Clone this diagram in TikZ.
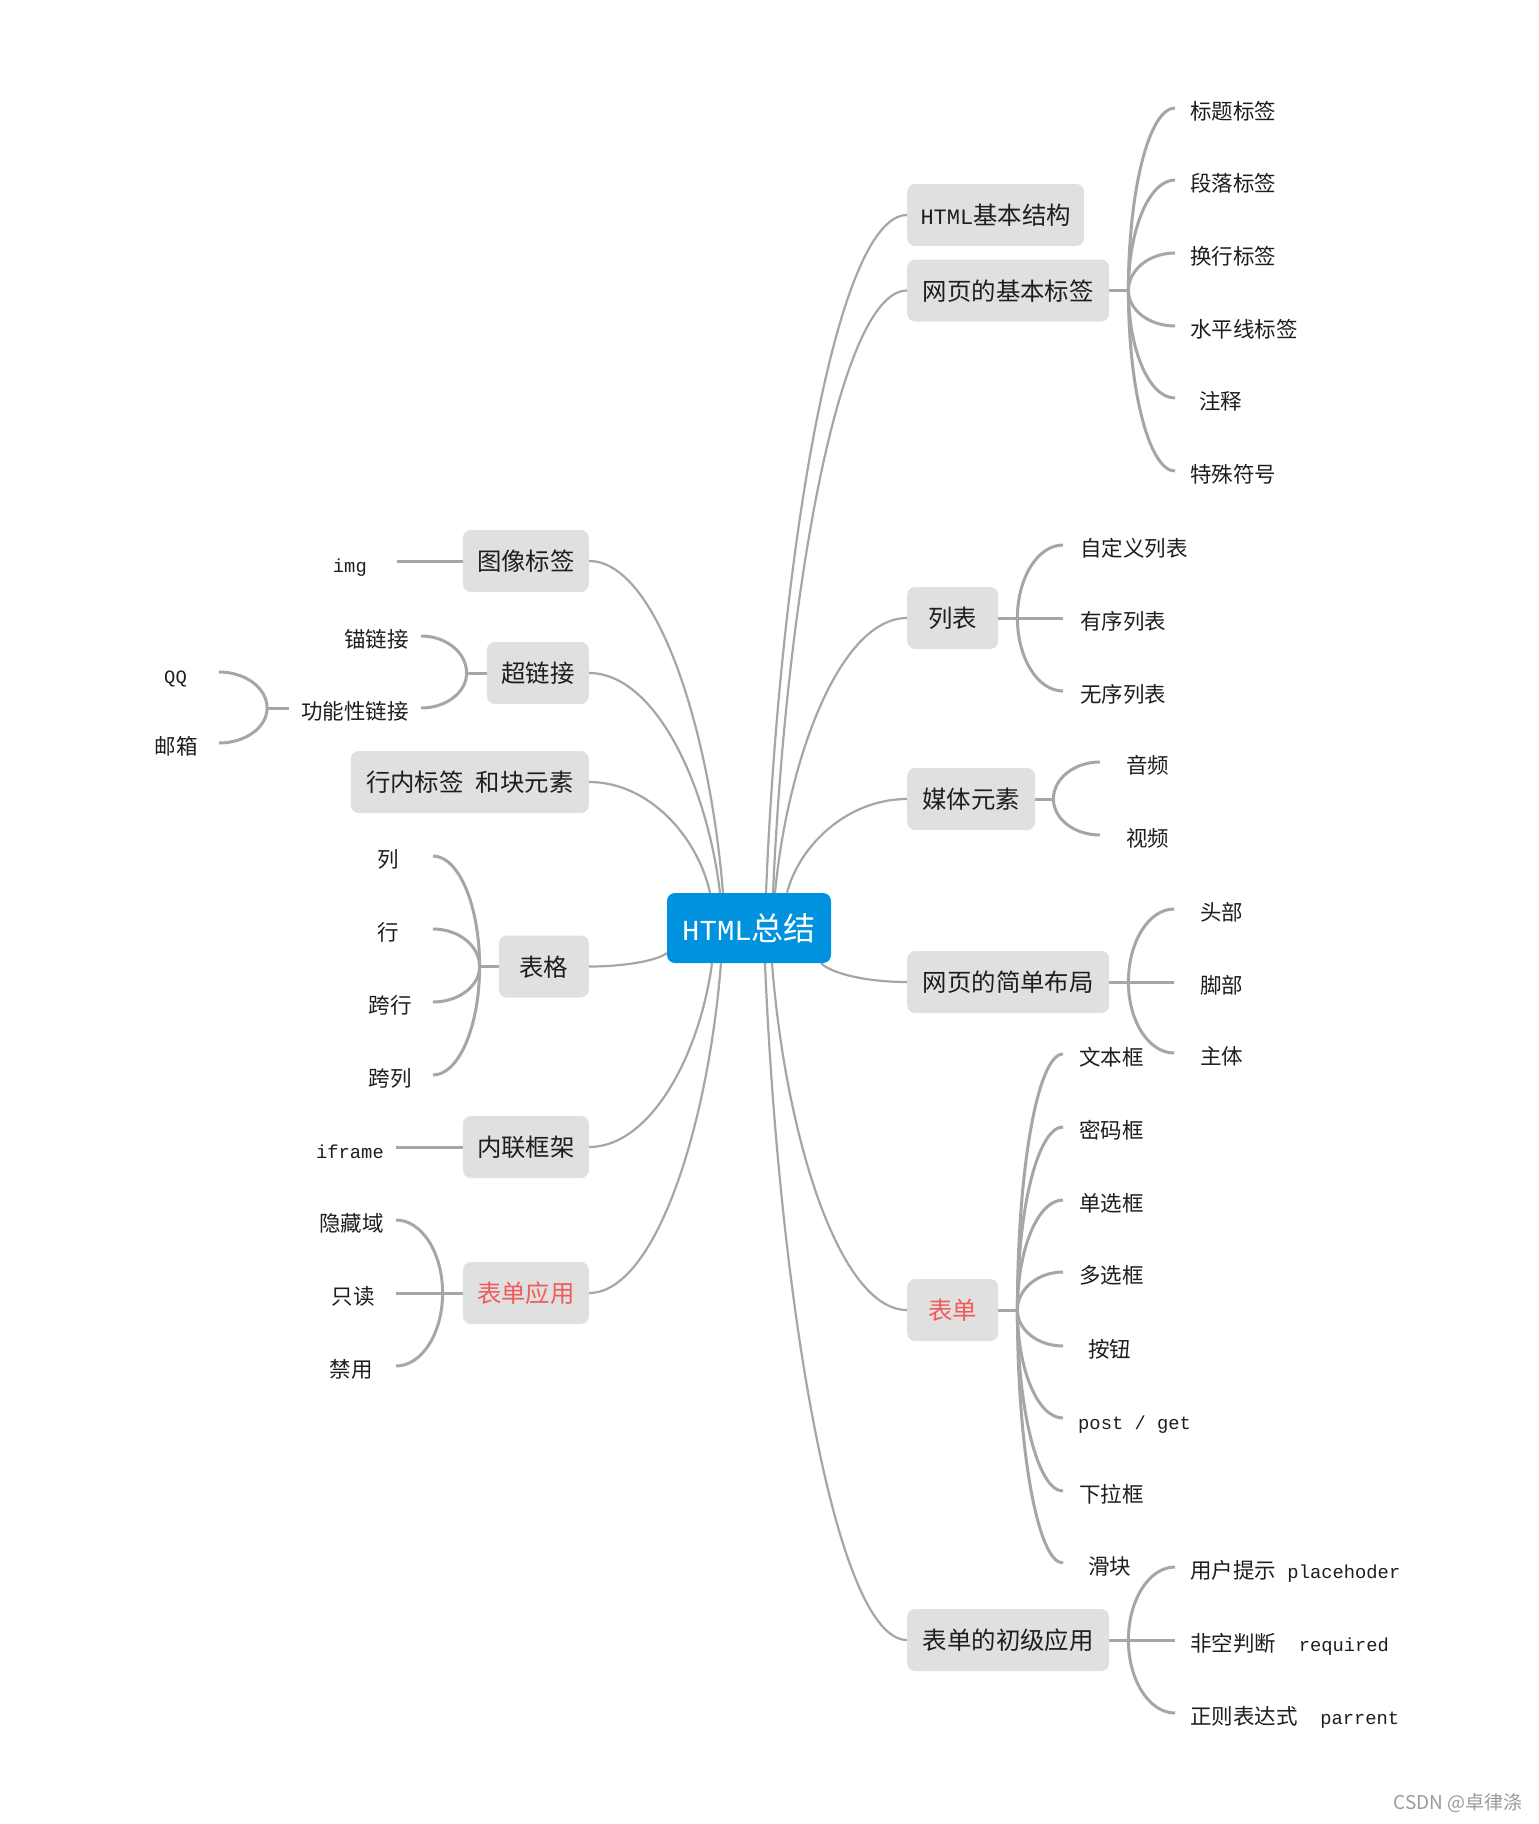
\documentclass[tikz,border=0pt]{standalone}
\usepackage{fontspec}
\setmainfont{Noto Sans CJK SC}
\newfontfamily\mono{Liberation Mono}
\usetikzlibrary{calc,backgrounds}
\definecolor{lineg}{RGB}{166,166,166}
\definecolor{boxg}{RGB}{224,224,224}
\definecolor{rootblue}{RGB}{0,146,223}
\definecolor{redtxt}{RGB}{240,90,90}
\definecolor{txt}{RGB}{30,30,30}
\definecolor{wmgray}{RGB}{155,155,155}
\newcommand\latS[1]{{\mono\fontsize{18.8pt}{22pt}\selectfont #1}}
\newcommand\latM[1]{{\mono\fontsize{22pt}{26pt}\selectfont #1}}
\newcommand\latC[1]{{\mono\fontsize{29pt}{32pt}\selectfont #1}}
\tikzset{
  mainbox/.style={fill=boxg, rounded corners=8pt, minimum height=62pt, inner sep=0pt,
    text=txt, font=\fontsize{24.4pt}{28pt}\selectfont, text height=22pt, text depth=3pt},
  rootbox/.style={fill=rootblue, rounded corners=8pt, minimum width=164pt, minimum height=70pt,
    inner sep=0pt, text=white, font=\fontsize{32pt}{36pt}\selectfont, text height=29pt, text depth=4pt},
  leaf/.style={inner ysep=0pt, text=txt, font=\fontsize{21.5pt}{24pt}\selectfont,
    text height=25pt, text depth=2.7pt},
  mainconn/.style={draw=lineg, line width=2.2pt},
  subconn/.style={draw=lineg, line width=3pt},
}
\newcommand\leafR[5]{\node[leaf, anchor=west, inner xsep=#4pt] (#1) at (#2,#3) {#5};}
\newcommand\leafL[5]{\node[leaf, anchor=east, inner xsep=#4pt] (#1) at (#2,#3) {#5};}
\newcommand\mainlink[2]{\draw[mainconn] let \p1=(#1), \p2=(#2) in (\p1) .. controls ({\x1+0.1*(\x2-\x1)},{0.5*(\y1+\y2)}) and ({0.5*(\x1+\x2)},\y2) .. (\p2);}
\newcommand\leaflink[2]{\draw[subconn] let \p1=(#1), \p2=(#2) in (\p1) .. controls (\x1,{\y1+0.552*(\y2-\y1)}) and ({\x2-0.552*(\x2-\x1)},\y2) .. (\p2);}
\begin{document}
\begin{tikzpicture}[x=1pt,y=-1pt]
\useasboundingbox (0,0) rectangle (1539,1824);

% root
\node[rootbox] (C) at (749,928) {\latC{HTML}总结};

% right main nodes
\node[mainbox, anchor=west, minimum width=177pt] (n1) at (907,215) {\latM{HTML}基本结构};
\node[mainbox, anchor=west, minimum width=202pt] (n2) at (907,290.5) {网页的基本标签};
\node[mainbox, anchor=west, minimum width=91pt] (n3) at (907,618) {列表};
\node[mainbox, anchor=west, minimum width=128pt] (n4) at (907,799) {媒体元素};
\node[mainbox, anchor=west, minimum width=202pt] (n5) at (907,982) {网页的简单布局};
\node[mainbox, anchor=west, minimum width=91pt, text=redtxt] (n6) at (907,1310) {表单};
\node[mainbox, anchor=west, minimum width=202pt] (n7) at (907,1640) {表单的初级应用};

% left main nodes
\node[mainbox, anchor=east, minimum width=126pt] (m1) at (589,561) {图像标签};
\node[mainbox, anchor=east, minimum width=102pt] (m2) at (589,673) {超链接};
\node[mainbox, anchor=east, minimum width=238pt] (m3) at (589,782) {行内标签\hspace{0.5em}和块元素};
\node[mainbox, anchor=east, minimum width=90pt] (m4) at (589,966.5) {表格};
\node[mainbox, anchor=east, minimum width=126pt] (m5) at (589,1147) {内联框架};
\node[mainbox, anchor=east, minimum width=126pt, text=redtxt] (m6) at (589,1293) {表单应用};

% right leaves
\leafR{a1}{1175}{108}{15}{标题标签}
\leafR{a2}{1175}{180}{15}{段落标签}
\leafR{a3}{1175}{253}{15}{换行标签}
\leafR{a4}{1175}{326}{15}{水平线标签}
\leafR{a5}{1175}{398}{24}{注释}
\leafR{a6}{1175}{471}{15}{特殊符号}
\leafR{b1}{1063}{545}{17}{自定义列表}
\leafR{b2}{1063}{618}{17}{有序列表}
\leafR{b3}{1063}{691}{17}{无序列表}
\leafR{c1}{1100}{762}{26}{音频}
\leafR{c2}{1100}{835}{26}{视频}
\leafR{d1}{1174}{909}{26}{头部}
\leafR{d2}{1174}{982}{26}{脚部}
\leafR{d3}{1174}{1053}{26}{主体}
\leafR{e1}{1063}{1054}{16}{文本框}
\leafR{e2}{1063}{1127}{16}{密码框}
\leafR{e3}{1063}{1200}{16}{单选框}
\leafR{e4}{1063}{1272}{16}{多选框}
\leafR{e5}{1063}{1346}{25}{按钮}
\leafR{e6}{1063}{1418}{15}{\latS{post / get}}
\leafR{e7}{1063}{1491}{16}{下拉框}
\leafR{e8}{1063}{1563}{25}{滑块}
\leafR{f1}{1175}{1567}{15}{用户提示\latS{\ placehoder}}
\leafR{f2}{1175}{1640}{15}{非空判断\latS{\ \ required}}
\leafR{f3}{1175}{1713}{15}{正则表达式\latS{\ \ parrent}}

% left leaves
\leafL{g1}{397}{561}{30}{\latS{img}}
\leafL{h1}{421}{636}{12}{锚链接}
\leafL{h2}{421}{708}{12}{功能性链接}
\leafL{h3}{219}{672}{32}{\latS{QQ}}
\leafL{h4}{219}{743}{21}{邮箱}
\leafL{k1}{433}{856}{34}{列}
\leafL{k2}{433}{929}{34}{行}
\leafL{k3}{433}{1002}{21}{跨行}
\leafL{k4}{433}{1075}{21}{跨列}
\leafL{i1}{396}{1147}{12}{\latS{iframe}}
\leafL{p1}{396}{1220}{12}{隐藏域}
\leafL{p2}{396}{1293}{21}{只读}
\leafL{p3}{396}{1366}{23}{禁用}

% watermark
\node[text=wmgray, font=\fontsize{19pt}{22pt}\selectfont, anchor=east, inner sep=0pt] (wm) at (1523,1803) {CSDN @卓律涤};

\begin{pgfonlayer}{background}
\fill[white] (0,0) rectangle (1539,1824);
% main connector start points on root
\coordinate (s1) at ([xshift=17pt]C.north);
\coordinate (s2) at ([xshift=24pt]C.north);
\coordinate (s3) at ([xshift=26pt]C.north);
\coordinate (s4) at ([xshift=38pt]C.north);
\coordinate (s5) at ([xshift=-10pt]C.south east);
\coordinate (s6) at ([xshift=23pt]C.south);
\coordinate (s7) at ([xshift=16pt]C.south);
\coordinate (t1) at ([xshift=-26pt]C.north);
\coordinate (t2) at ([xshift=-29pt]C.north);
\coordinate (t3) at ([xshift=-39pt]C.north);
\coordinate (t4) at ([yshift=-25pt]C.west);
\coordinate (t5) at ([xshift=-37pt]C.south);
\coordinate (t6) at ([xshift=-28pt]C.south);
\mainlink{s1}{n1.west}
\mainlink{s2}{n2.west}
\mainlink{s3}{n3.west}
\mainlink{s4}{n4.west}
\mainlink{s5}{n5.west}
\mainlink{s6}{n6.west}
\mainlink{s7}{n7.west}
\mainlink{t1}{m1.east}
\mainlink{t2}{m2.east}
\mainlink{t3}{m3.east}
\mainlink{t4}{m4.east}
\mainlink{t5}{m5.east}
\mainlink{t6}{m6.east}

% junctions
\coordinate (J2) at ([xshift=19pt]n2.east);
\coordinate (J3) at ([xshift=19pt]n3.east);
\coordinate (J4) at ([xshift=18pt]n4.east);
\coordinate (J5) at ([xshift=19pt]n5.east);
\coordinate (J6) at ([xshift=19pt]n6.east);
\coordinate (J7) at ([xshift=19pt]n7.east);
\coordinate (Lh) at ([xshift=-20pt]m2.west);
\coordinate (Lf) at ([xshift=-22pt]h2.west);
\coordinate (Lk) at ([xshift=-19pt]m4.west);
\coordinate (Lp) at ([xshift=-20pt]m6.west);

\draw[subconn] (n2.east) -- (J2);
\draw[subconn] (n3.east) -- (J3);
\draw[subconn] (n4.east) -- (J4);
\draw[subconn] (n5.east) -- (J5);
\draw[subconn] (n6.east) -- (J6);
\draw[subconn] (n7.east) -- (J7);
\draw[subconn] (m2.west) -- (Lh);
\draw[subconn] (h2.west) -- (Lf);
\draw[subconn] (m4.west) -- (Lk);
\draw[subconn] (m6.west) -- (Lp);
\draw[subconn] (m1.west) -- (g1.east);
\draw[subconn] (m5.west) -- (i1.east);

\foreach \l in {a1,a2,a3,a4,a5,a6} {\leaflink{J2}{\l.west}}
\foreach \l in {b1,b2,b3} {\leaflink{J3}{\l.west}}
\foreach \l in {c1,c2} {\leaflink{J4}{\l.west}}
\foreach \l in {d1,d2,d3} {\leaflink{J5}{\l.west}}
\foreach \l in {e1,e2,e3,e4,e5,e6,e7,e8} {\leaflink{J6}{\l.west}}
\foreach \l in {f1,f2,f3} {\leaflink{J7}{\l.west}}
\foreach \l in {h1,h2} {\leaflink{Lh}{\l.east}}
\foreach \l in {h3,h4} {\leaflink{Lf}{\l.east}}
\foreach \l in {k1,k2,k3,k4} {\leaflink{Lk}{\l.east}}
\foreach \l in {p1,p2,p3} {\leaflink{Lp}{\l.east}}
\end{pgfonlayer}
\end{tikzpicture}
\end{document}
